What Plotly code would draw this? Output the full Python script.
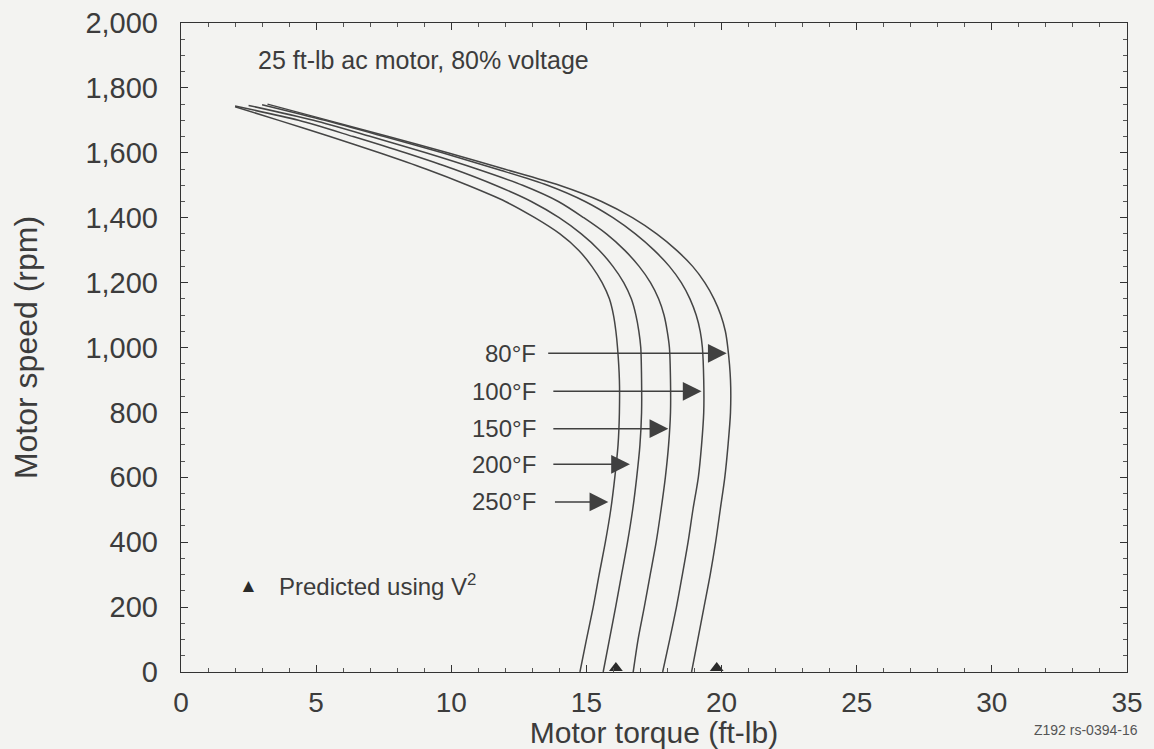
import plotly.graph_objects as go

# Motor speed levels (rpm); the first entry of each curve is its own no-load tip
speed_levels = [1700, 1650, 1600, 1550, 1500, 1450, 1400, 1350, 1300, 1250, 1200, 1150, 1100,
                1050, 1000, 900, 800, 700, 600, 500, 400, 300, 200, 100, 0]
tip_speed = {"80°F": 1750, "100°F": 1748, "150°F": 1746, "200°F": 1744, "250°F": 1742}
tip_torque = {"80°F": 3.2, "100°F": 3.0, "150°F": 2.5, "200°F": 2.0, "250°F": 2.0}

# Motor torque (ft-lb) at each speed level, one list per motor temperature
torque_80F = [5.45, 7.67, 9.87, 11.96, 14.0, 15.56, 16.7, 17.6, 18.33, 18.93, 19.38, 19.72, 19.97,
              20.14, 20.23, 20.33, 20.33, 20.24, 20.12, 19.95, 19.78, 19.58, 19.35, 19.12, 18.89]
torque_100F = [5.32, 7.52, 9.67, 11.67, 13.56, 14.95, 15.98, 16.81, 17.5, 18.07, 18.51, 18.83, 19.06,
               19.21, 19.29, 19.34, 19.34, 19.26, 19.14, 18.94, 18.76, 18.55, 18.33, 18.08, 17.82]
torque_150F = [4.9, 7.02, 9.06, 10.95, 12.64, 13.96, 14.9, 15.74, 16.41, 16.95, 17.37, 17.67, 17.87,
               17.99, 18.07, 18.11, 18.11, 18.04, 17.92, 17.76, 17.58, 17.36, 17.14, 16.91, 16.73]
torque_200F = [4.35, 6.37, 8.3, 10.08, 11.63, 12.96, 13.99, 14.81, 15.47, 15.98, 16.38, 16.66, 16.83,
               16.94, 17.01, 17.04, 17.04, 16.98, 16.86, 16.71, 16.52, 16.3, 16.08, 15.85, 15.62]
torque_250F = [3.62, 5.51, 7.34, 9.06, 10.61, 12.0, 13.09, 14.02, 14.71, 15.2, 15.58, 15.85, 16.0,
               16.09, 16.15, 16.22, 16.22, 16.17, 16.05, 15.9, 15.7, 15.47, 15.25, 15.0, 14.76]

temperature_labels = ["80°F", "100°F", "150°F", "200°F", "250°F"]
curve_torque = [torque_80F, torque_100F, torque_150F, torque_200F, torque_250F]

# Arrow tip (torque, speed) and tail torque for each temperature label
arrow_tip_torque = [20.19, 19.26, 18.03, 16.61, 15.81]
arrow_tip_speed = [982, 865, 750, 640, 524]
arrow_tail_torque = [13.53, 13.72, 13.72, 13.72, 13.78]

# Stall torque predicted from the V^2 relation
predicted_torque = [16.09, 19.82]
predicted_speed = [12, 12]

INK = "#3c3c3c"
FONT = "Liberation Sans, Arial, sans-serif"

fig = go.Figure()

for label, torque in zip(temperature_labels, curve_torque):
    fig.add_trace(go.Scatter(
        x=[tip_torque[label]] + torque, y=[tip_speed[label]] + speed_levels, mode="lines",
        line=dict(color="#454545", width=1.5, shape="spline", smoothing=0.8),
        showlegend=False, hoverinfo="skip", name=label,
    ))

fig.add_trace(go.Scatter(
    x=predicted_torque, y=predicted_speed, mode="markers",
    marker=dict(symbol="triangle-up", size=12, color="#2a2a2a"),
    cliponaxis=False, showlegend=False, hoverinfo="skip",
))

annotations = []
for label, tx, ty, ax in zip(temperature_labels, arrow_tip_torque, arrow_tip_speed, arrow_tail_torque):
    annotations.append(dict(
        x=tx, y=ty, ax=ax, ay=ty, xref="x", yref="y", axref="x", ayref="y",
        text="", showarrow=True, arrowhead=2, arrowsize=2.5, arrowwidth=1.5,
        arrowcolor="#404040",
    ))
    annotations.append(dict(
        x=13.22, y=ty, xref="x", yref="y", text=label, showarrow=False,
        xanchor="right", yanchor="middle",
        font=dict(family=FONT, size=24, color=INK),
    ))

annotations.append(dict(
    x=2.77, y=1885, xref="x", yref="y", text="25 ft-lb ac motor, 80% voltage",
    showarrow=False, xanchor="left", yanchor="middle",
    font=dict(family=FONT, size=25, color=INK),
))
annotations.append(dict(
    x=2.5, y=268, xref="x", yref="y", text="▲",
    showarrow=False, xanchor="center", yanchor="middle",
    font=dict(family=FONT, size=19, color="#2a2a2a"),
))
annotations.append(dict(
    x=3.55, y=268, xref="x", yref="y", text="Predicted using V<sup>2</sup>",
    showarrow=False, xanchor="left", yanchor="middle",
    font=dict(family=FONT, size=24, color=INK),
))
annotations.append(dict(
    x=1.014, y=-0.09, xref="paper", yref="paper", text="Z192 rs-0394-16",
    showarrow=False, xanchor="right", yanchor="middle",
    font=dict(family=FONT, size=14, color="#555555"),
))

fig.update_layout(
    width=1154, height=749,
    margin=dict(l=181, r=27, t=23, b=77),
    paper_bgcolor="#f3f3f1", plot_bgcolor="#f3f3f1",
    annotations=annotations,
    font=dict(family=FONT, color=INK),
)

fig.update_xaxes(
    range=[0, 35], tickvals=[0, 5, 10, 15, 20, 25, 30, 35], automargin=False,
    showgrid=False, zeroline=False,
    showline=True, linecolor="#333333", linewidth=1.4, mirror="allticks",
    ticks="inside", ticklen=7, tickcolor="#333333", tickwidth=1,
    minor=dict(dtick=1, ticks="inside", ticklen=4, tickcolor="#555555", showgrid=False),
    tickfont=dict(family=FONT, size=28, color=INK), ticklabelstandoff=5,
    title=dict(text="Motor torque (ft-lb)", font=dict(family=FONT, size=30, color=INK), standoff=0),
)
fig.update_yaxes(
    range=[0, 2000], tickvals=list(range(0, 2001, 200)), tickformat=",", automargin=False,
    showgrid=False, zeroline=False,
    showline=True, linecolor="#333333", linewidth=1.4, mirror="allticks",
    ticks="inside", ticklen=7, tickcolor="#333333", tickwidth=1,
    minor=dict(dtick=50, ticks="inside", ticklen=4, tickcolor="#555555", showgrid=False),
    tickfont=dict(family=FONT, size=29, color=INK), ticklabelstandoff=16,
    title=dict(text="Motor speed (rpm)", font=dict(family=FONT, size=32, color=INK), standoff=38),
)

fig.write_html("out.html")
